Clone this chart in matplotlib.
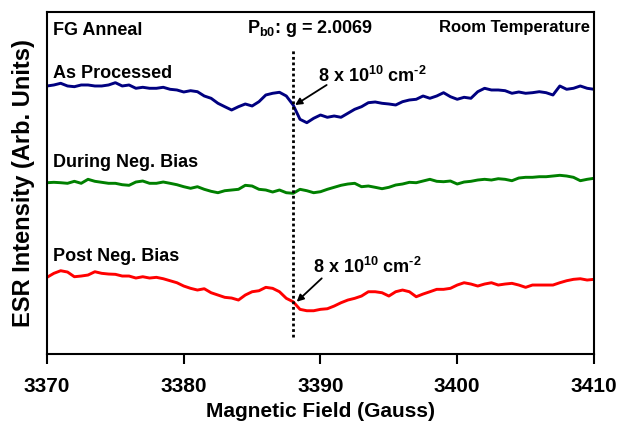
import numpy as np
import matplotlib
matplotlib.use('Agg')
import matplotlib.pyplot as plt

plt.rcParams['font.family'] = ['Liberation Sans', 'DejaVu Sans']
plt.rcParams['font.weight'] = 'bold'
plt.rcParams['mathtext.fontset'] = 'custom'
plt.rcParams['mathtext.rm'] = 'Liberation Sans:bold'
plt.rcParams['mathtext.bf'] = 'Liberation Sans:bold'
plt.rcParams['mathtext.default'] = 'bf'

## field axis, 0.5 G steps
field = np.arange(3370, 3410.01, 0.5)

## ESR traces (arb. units, already offset for stacking)
as_processed = [268, 269, 270.7, 268, 267.3, 269, 269, 268, 268, 269,
                271.3, 268, 269, 265.7, 266.7, 265.7, 265.7, 266.7, 264.7, 264,
                262, 263.3, 262.3, 258, 255.7, 250.7, 247.3, 244, 247.3, 250,
                248, 252.3, 259, 260.7, 261.7, 258, 249, 234.7, 231.3, 235.7,
                239, 236.7, 238, 236.7, 240.7, 244.7, 247.3, 251.3, 252, 250.7,
                250, 249, 252.3, 254, 254.7, 258, 255.7, 258, 261.3, 257.3,
                254.7, 256.7, 255.7, 262.3, 265.7, 264, 264, 263.3, 260.7, 262,
                260.7, 261.3, 262.3, 261.3, 259, 268, 264.7, 265.7, 268, 265.7,
                264.7]
during_bias = [171.3, 171.7, 171.3, 170.7, 172.7, 170.7, 174.7, 172.7, 171.7, 170.7,
               170.7, 169.3, 168.7, 172, 173, 170.7, 170.7, 172, 170.7, 169.3,
               167.3, 165.7, 167.3, 164.7, 162.7, 161.3, 163.3, 164, 164.7, 168.7,
               168, 164.7, 164, 162, 164, 161.3, 160.7, 164.7, 163.3, 161.3,
               162.3, 164.7, 166.7, 168.7, 170, 170.7, 167.3, 168, 166.7, 165.3,
               166.7, 169, 170, 171.7, 171.3, 173, 174.7, 172.7, 172.3, 173,
               170, 172, 172.7, 174, 174.7, 174, 175.3, 174.7, 173.3, 176,
               176.7, 176.7, 177.3, 177.3, 178, 178.7, 178, 176.7, 173.3, 174.7,
               175.7]
post_bias = [76.7, 80.7, 83.3, 82, 77.3, 78, 79, 82.3, 80.7, 80,
             79.7, 78, 78, 76, 77.3, 76, 76.7, 75.3, 73.3, 71.3,
             68, 65.7, 64, 65.3, 61.3, 59, 56.7, 56, 54, 59,
             62.3, 63.3, 66.7, 65.7, 62.3, 55.7, 52.3, 44.7, 43.3, 43.3,
             44.7, 45.3, 48, 51.3, 54, 55.7, 58, 62.3, 62.3, 61.3,
             58, 62.3, 64, 62.3, 57.3, 60, 62.3, 64.7, 64.7, 65.7,
             69, 71.3, 70, 68, 70, 71.3, 69, 70, 70.7, 69,
             66.7, 69, 69, 69, 69, 71.3, 73.3, 74.7, 75.3, 74,
             74.7]

labels = ['As Processed', 'During Neg. Bias', 'Post Neg. Bias']
colors = ['#000080', '#008000', '#ff0000']
pb0_field = 3388
density = '8 x 10$^{10}$ cm$^{\u20102}$'

fig = plt.figure(figsize=(6.21, 4.23), dpi=100)
ax = fig.add_axes([0.0757, 0.163, 0.8808, 0.8087])

for trace, c in zip([as_processed, during_bias, post_bias], colors):
    ax.plot(field, trace, color=c, lw=2.1)

# Pb0 marker
ax.plot([pb0_field, pb0_field], [17, 304], color='black', lw=2,
        linestyle=(0, (1, 1)))

ax.set_xlim(3370, 3410)
ax.set_ylim(0, 342)
ax.set_xticks([3370, 3380, 3390, 3400, 3410])
ax.set_yticks([])
ax.tick_params(axis='x', direction='out', length=7, width=1.5,
               labelsize=15, pad=9.5)
for s in ax.spines.values():
    s.set_linewidth(1.5)

ax.set_xlabel('Magnetic Field (Gauss)', fontsize=15, fontweight='bold',
              va='baseline')
ax.xaxis.set_label_coords(0.5, -0.184)
ax.set_ylabel('ESR Intensity (Arb. Units)', fontsize=17, fontweight='bold',
              labelpad=9)

ax.text(3370.44, 319, 'FG Anneal', fontsize=13, va='baseline')
ax.text(3409.7, 322, 'Room Temperature', fontsize=12, ha='right', va='baseline')
ax.text(3384.6, 321, r'P$_{b0}$: g = 2.0069', fontsize=13, va='baseline')

ax.text(3370.44, 276, labels[0], fontsize=13, va='baseline')
ax.text(3370.44, 187, labels[1], fontsize=13, va='baseline')
ax.text(3370.44, 93, labels[2], fontsize=13, va='baseline')

arrow = dict(arrowstyle='-|>', lw=1.3, color='black', mutation_scale=10,
             shrinkA=0, shrinkB=0)
ax.annotate('', xy=(3388.14, 249), xytext=(3390.45, 269), arrowprops=arrow)
ax.text(3389.82, 272.3, density, fontsize=13, va='baseline')
ax.annotate('', xy=(3388.26, 52.3), xytext=(3390.09, 75.7), arrowprops=arrow)
ax.text(3389.45, 81, density, fontsize=13, va='baseline')

fig.savefig('out.png', dpi=100)
